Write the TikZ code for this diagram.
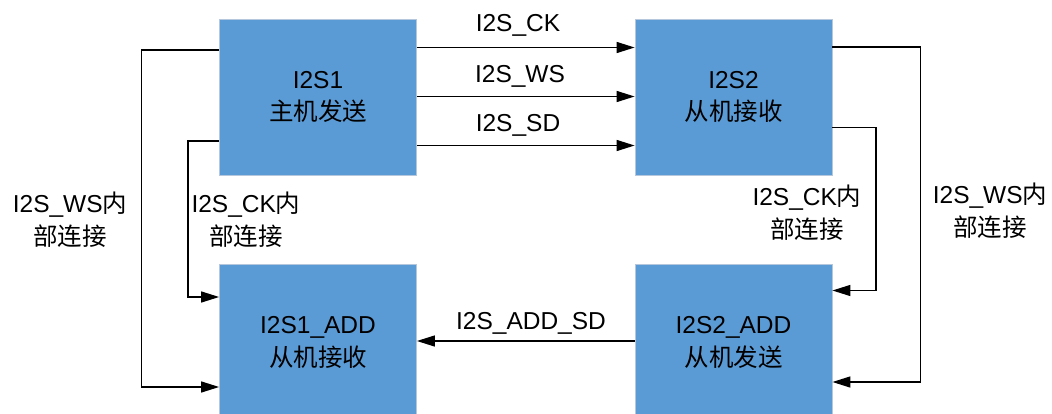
\documentclass[tikz,border=0pt]{standalone}
\usepackage{fontspec}
\setmainfont{Liberation Sans}
\newfontfamily\cjk{Noto Sans CJK SC}
\usetikzlibrary{arrows.meta}
\tikzset{
  blk/.style={rectangle, fill=boxblue, draw=boxedge, line width=0.8pt, minimum width=197pt, minimum height=156pt, inner sep=0pt, align=center, font=\fontsize{24.5}{32}\selectfont},
  lbl/.style={align=center, inner sep=0pt, font=\fontsize{24.5}{33}\selectfont},
  wire/.style={line width=1.4pt, black},
  arr/.style={wire, -{Triangle[length=18pt,width=11pt]}}
}
\definecolor{boxblue}{HTML}{5B9BD5}
\definecolor{boxedge}{HTML}{B4C7DC}
\begin{document}
\begin{tikzpicture}[x=1pt,y=-1pt]
\useasboundingbox (0,0) rectangle (1052,414);
\clip (0,0) rectangle (1052,414);
\node[blk] (b1) at (318,97) {I2S1\\{\cjk 主机发送}};
\node[blk] (b2) at (733.5,97) {I2S2\\{\cjk 从机接收}};
\node[blk, anchor=north] (b3) at (318,264) {};
\node[blk, anchor=north] (b4) at (733.5,264) {};
\node[lbl] (t3) at (318,342) {I2S1\_ADD\\{\cjk 从机接收}};
\node[lbl] (t4) at (733.5,342) {I2S2\_ADD\\{\cjk 从机发送}};
% top arrows
\draw[arr] (b1.east |- 0,47.5) -- (b2.west |- 0,47.5);
\draw[arr] (b1.east |- 0,96.5) -- (b2.west |- 0,96.5);
\draw[arr] (b1.east |- 0,145.5) -- (b2.west |- 0,145.5);
\node[lbl] (lck) at (518,25) {I2S\_CK};
\node[lbl] (lws) at (520,76) {I2S\_WS};
\node[lbl] (lsd) at (518,125) {I2S\_SD};
% left internal links
\coordinate (lw1) at (141.5,50);
\coordinate (lw2) at (141.5,387);
\draw[arr] (b1.west |- lw1) -- (lw1) -- (lw2) -- (b3.west |- lw2);
\coordinate (lc1) at (188,141);
\coordinate (lc2) at (188,297);
\draw[arr] (b1.west |- lc1) -- (lc1) -- (lc2) -- (b3.west |- lc2);
\node[lbl] (lwl) at (70,220) {I2S\_WS{\cjk 内}\\{\cjk 部连接}};
\node[lbl] (lcl) at (246,220) {I2S\_CK{\cjk 内}\\{\cjk 部连接}};
% right internal links
\coordinate (rw1) at (920.5,47);
\coordinate (rw2) at (920.5,382);
\draw[arr] (b2.east |- rw1) -- (rw1) -- (rw2) -- (b4.east |- rw2);
\coordinate (rc1) at (876,127.5);
\coordinate (rc2) at (876,290.5);
\draw[arr] (b2.east |- rc1) -- (rc1) -- (rc2) -- (b4.east |- rc2);
\node[lbl] (rcl) at (807,213) {I2S\_CK{\cjk 内}\\{\cjk 部连接}};
\node[lbl] (rwl) at (990,211) {I2S\_WS{\cjk 内}\\{\cjk 部连接}};
% bottom
\draw[arr] (b4.west |- 0,341) -- (b3.east |- 0,341);
\node[lbl] (lad) at (531,323) {I2S\_ADD\_SD};
\end{tikzpicture}
\end{document}
